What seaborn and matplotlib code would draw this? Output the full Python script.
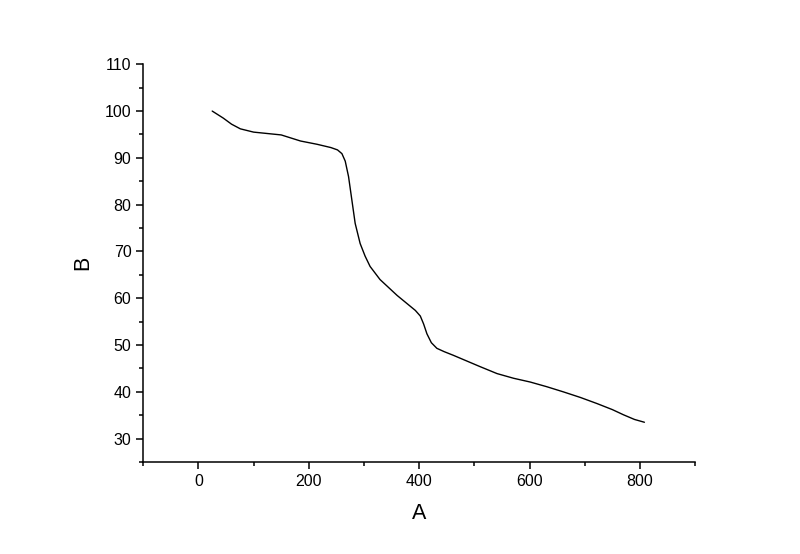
import matplotlib
matplotlib.use("Agg")
import matplotlib.pyplot as plt
from matplotlib.ticker import MultipleLocator
import seaborn as sns
import pandas as pd

a_vals = [25, 45, 60, 76, 100, 125, 150, 185, 215, 240, 252, 260, 266, 272, 278, 284,
          293, 302, 311, 329, 360, 393, 402, 408, 414, 422, 432, 445, 462, 480,
          510, 541, 571, 601, 631, 661, 692, 722, 750, 770, 790, 808]
b_vals = [100, 98.5, 97.2, 96.2, 95.5, 95.2, 94.9, 93.6, 92.9, 92.2, 91.7, 90.9, 89.3,
          86, 81, 76, 71.7, 69, 66.8, 64, 60.6, 57.4, 56.2, 54.5, 52.4, 50.5, 49.3,
          48.6, 47.8, 46.9, 45.4, 43.9, 42.9, 42.1, 41.1, 40.0, 38.8, 37.5, 36.2,
          35.1, 34.1, 33.5]

df = pd.DataFrame({"A": a_vals, "B": b_vals})

sns.set_style("ticks")
plt.rcParams['font.family'] = ['Liberation Sans', 'DejaVu Sans']

fig = plt.figure(figsize=(8, 5.54), dpi=100)
ax = fig.add_axes([0.179, 0.166, 0.690, 0.718])
sns.lineplot(data=df, x="A", y="B", ax=ax, color="black", linewidth=1.0, sort=False)

ax.set_xlim(-100, 900)
ax.set_ylim(25, 110)
ax.xaxis.set_major_locator(MultipleLocator(200))
ax.xaxis.set_minor_locator(MultipleLocator(100))
ax.yaxis.set_major_locator(MultipleLocator(10))
ax.yaxis.set_minor_locator(MultipleLocator(5))
ax.set_yticks(range(30, 111, 10))
ax.tick_params(which='major', direction='out', length=5, width=1.1, labelsize=11.5, colors='black')
ax.tick_params(which='minor', direction='out', length=3, width=1.1, colors='black')
sns.despine(ax=ax)
for s in ['left', 'bottom']:
    ax.spines[s].set_linewidth(1.1)
    ax.spines[s].set_color('black')
ax.set_xlabel("A", fontsize=15.5, labelpad=10, color='black')
ax.set_ylabel("B", fontsize=15.5, labelpad=8, color='black')
fig.savefig("out.png", dpi=100)
